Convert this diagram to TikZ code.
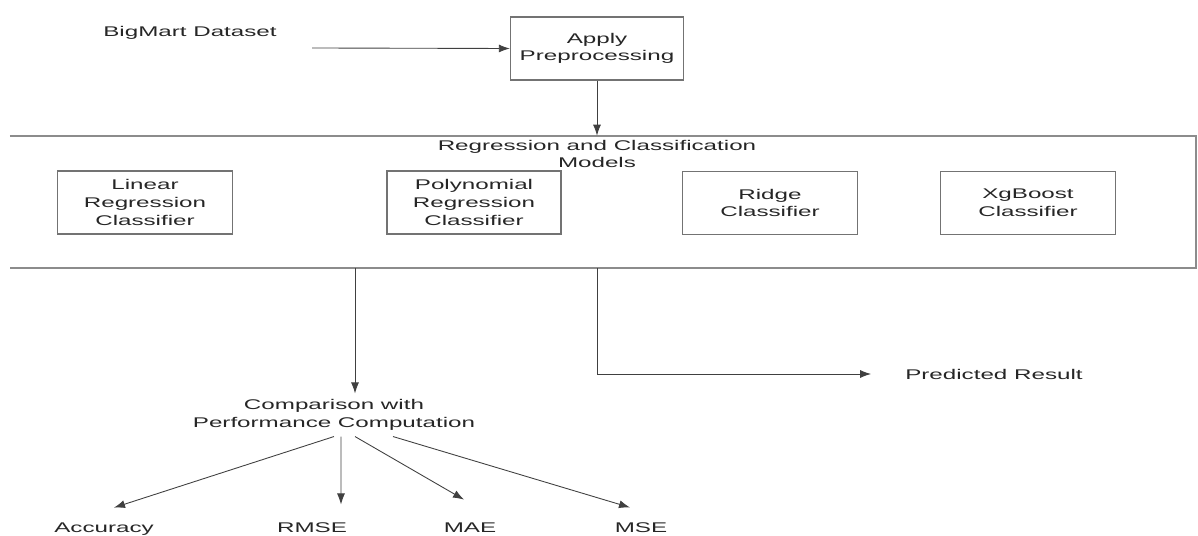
\documentclass[tikz,border=0pt]{standalone}
\usepackage{fontspec}
\setmainfont{Liberation Sans}[FakeStretch=1.72]
\usetikzlibrary{arrows.meta}
\tikzset{
  every node/.style={font=\fontsize{8}{10}\selectfont, text=black!85, align=center},
  box/.style={draw=black!55, line width=0.8pt, minimum width=3.5cm, minimum height=1.26cm},
  arr/.style={draw=black!75, line width=0.5pt, -{Latex[length=2.2mm,width=1.6mm]}},
  band/.style={draw=black!45, line width=1.1pt}
}
\begin{document}
\begin{tikzpicture}[x=0.02cm,y=0.02cm]
\useasboundingbox (0,0) rectangle (1198,-536);
% input and preprocessing
\node (data) at (190,-33) {BigMart Dataset};
\coordinate (datain) at (312,-48);
\node [box, minimum width=3.46cm] (prep) at (597,-48.5) {Apply\\Preprocessing};
\draw [arr] (datain) -- (prep.west);
% models band
\node [minimum width=23.72cm, minimum height=2.64cm] (models) at (603,-202) {};
\draw [band] (models.north west) -- (models.north east) -- (models.south east) -- (models.south west);
\draw [arr] (prep.south) -- (prep.south |- models.north);
\node (title) at (597,-154) {Regression and Classification\\Models};
\node [box] (linear) at (145,-202.5) {Linear\\Regression\\Classifier};
\node [box, minimum width=3.48cm] (poly) at (474,-202.5) {Polynomial\\Regression\\Classifier};
\node [box] (ridge) at (770,-203) {Ridge\\Classifier};
\node [box] (xgb) at (1028,-203) {XgBoost\\Classifier};
% outputs
\node (pred) at (994,-374) {Predicted Result};
\draw [arr, shorten >=0.56cm] (models.south -| prep) |- (pred.west);
\node (comp) at (334,-415) {Comparison with\\Performance Computation};
\coordinate (split) at (355,-268);
\draw [arr] (split) -- (split |- comp.north);
% metrics
\node [anchor=base] (acc) at (104,-533) {Accuracy};
\node [anchor=base] (rmse) at (312,-533) {RMSE};
\node [anchor=base] (mae) at (470,-533) {MAE};
\node [anchor=base] (mse) at (641,-533) {MSE};
\draw [arr] (comp.south) -- ([xshift=0.2cm,yshift=0.19cm]acc.north);
\draw [arr] ([xshift=0.14cm]comp.south) -- ([xshift=0.58cm,yshift=0.25cm]rmse.north);
\draw [arr] ([xshift=0.42cm]comp.south) -- ([xshift=-0.12cm,yshift=0.35cm]mae.north);
\draw [arr] ([xshift=1.18cm]comp.south) -- ([xshift=-0.22cm,yshift=0.19cm]mse.north);
\end{tikzpicture}
\end{document}
